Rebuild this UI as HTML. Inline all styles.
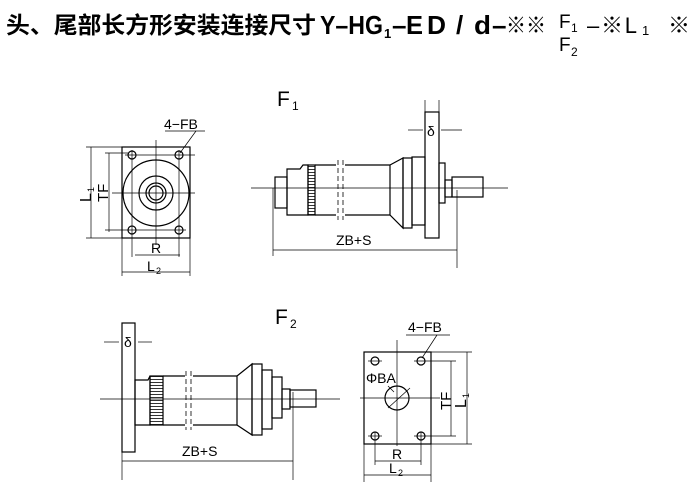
<!DOCTYPE html>
<html><head><meta charset="utf-8"><style>
html,body{margin:0;padding:0;background:#fff}
svg{display:block}
text{font-family:"Liberation Sans","Noto Sans CJK SC",sans-serif;fill:#000}
</style></head><body>
<svg width="700" height="502" viewBox="0 0 700 502" xmlns="http://www.w3.org/2000/svg">
<defs>
<pattern id="kn" width="3" height="3" patternUnits="userSpaceOnUse"><line x1="0" y1="1.5" x2="3" y2="1.5" stroke="#000" stroke-width="0.8"/></pattern>
</defs>
<g font-weight="bold">
<text x="6" y="33" font-size="23" textLength="310" lengthAdjust="spacingAndGlyphs">头、尾部长方形安装连接尺寸</text>
<text x="320" y="34" font-size="26" textLength="63" lengthAdjust="spacingAndGlyphs">Y–HG</text>
<text x="384" y="38" font-size="13">1</text>
<text x="392" y="34" font-size="26">–</text>
<text x="406" y="34" font-size="26" textLength="17" lengthAdjust="spacingAndGlyphs">E</text>
<text x="427" y="34" font-size="26" textLength="19" lengthAdjust="spacingAndGlyphs">D</text>
<text x="456" y="34" font-size="26">/</text>
<text x="474" y="34" font-size="26" textLength="17" lengthAdjust="spacingAndGlyphs">d</text>
<text x="492" y="34" font-size="26">–</text>
<text x="506" y="33" font-size="22" textLength="40" lengthAdjust="spacingAndGlyphs">※※</text>
<text x="559" y="28" font-size="19" font-weight="normal">F</text>
<text x="571" y="32" font-size="12" font-weight="normal">1</text>
<text x="559" y="51" font-size="19" font-weight="normal">F</text>
<text x="571" y="56" font-size="12" font-weight="normal">2</text>
<text x="587" y="33" font-size="22" font-weight="normal" textLength="50" lengthAdjust="spacing">–※L</text>
<text x="642" y="35" font-size="13" font-weight="normal">1</text>
<text x="668" y="33" font-size="22" font-weight="normal">※</text>
</g>
<g stroke="#000" fill="none" stroke-width="1.2">
<rect x="122" y="147" width="68" height="91"/>
<circle cx="156" cy="193" r="33"/>
<circle cx="156" cy="193" r="17"/>
<circle cx="156" cy="193" r="10"/>
<circle cx="156" cy="193" r="7"/>
<circle cx="132" cy="155" r="4"/><circle cx="179" cy="155" r="4"/>
<circle cx="132" cy="230" r="4"/><circle cx="179" cy="230" r="4"/>
<g stroke-width="0.7">
<line x1="156" y1="140" x2="156" y2="245"/><line x1="112" y1="193" x2="195" y2="193"/>
<line x1="125" y1="155" x2="195" y2="155"/><line x1="105" y1="230" x2="186" y2="230"/>
<line x1="132" y1="150" x2="132" y2="257"/><line x1="179" y1="150" x2="179" y2="257"/>
<line x1="86" y1="147" x2="122" y2="147"/><line x1="86" y1="238" x2="122" y2="238"/>
<line x1="91" y1="147" x2="91" y2="238"/><line x1="109" y1="153" x2="109" y2="232"/>
<line x1="105" y1="153" x2="128" y2="153"/>
<line x1="135" y1="255" x2="180" y2="255"/><line x1="122" y1="272" x2="190" y2="272"/>
<line x1="122" y1="238" x2="122" y2="276"/><line x1="190" y1="238" x2="190" y2="276"/>
<line x1="165" y1="131" x2="205" y2="131"/><line x1="196" y1="131" x2="180" y2="153"/>
</g>
<line x1="251" y1="188" x2="508" y2="188" stroke-width="0.7"/>
<rect x="275" y="177" width="12" height="31"/>
<path d="M287 215 V169 H300 L303 165 H308 V215 Z"/>
<rect x="308" y="165" width="7" height="50" fill="url(#kn)"/>
<line x1="315" y1="165" x2="336" y2="165"/><line x1="345" y1="165" x2="390" y2="165"/>
<line x1="315" y1="215" x2="336" y2="215"/><line x1="345" y1="215" x2="390" y2="215"/>
<line x1="338" y1="160" x2="338" y2="220" stroke-dasharray="5,3" stroke-width="0.8"/>
<line x1="343" y1="160" x2="343" y2="220" stroke-dasharray="5,3" stroke-width="0.8"/>
<path d="M390 165 L403 158 V228 L390 215 Z"/>
<rect x="403" y="158" width="9" height="70"/>
<rect x="412" y="157" width="13" height="68"/>
<rect x="425" y="112" width="14" height="126"/>
<rect x="439" y="163" width="6" height="40"/>
<rect x="445" y="180" width="7" height="17"/>
<rect x="452" y="177" width="31" height="20"/>
<g stroke-width="0.7">
<line x1="408" y1="130" x2="423" y2="130"/><line x1="441" y1="130" x2="462" y2="130"/>
<line x1="425" y1="100" x2="425" y2="112"/><line x1="439" y1="100" x2="439" y2="112"/>
<line x1="273" y1="188" x2="273" y2="256"/><line x1="457" y1="190" x2="457" y2="268"/>
<line x1="273" y1="250" x2="457" y2="250"/>
</g>
<line x1="100" y1="399" x2="340" y2="399" stroke-width="0.7"/>
<rect x="122" y="323" width="13" height="129"/>
<path d="M135 425 V380 H148 L150 376 H150 V425 Z"/>
<rect x="150" y="376" width="13" height="49" fill="url(#kn)"/>
<line x1="163" y1="376" x2="185" y2="376"/><line x1="193" y1="376" x2="237" y2="376"/>
<line x1="163" y1="425" x2="185" y2="425"/><line x1="193" y1="425" x2="237" y2="425"/>
<line x1="186" y1="371" x2="186" y2="430" stroke-dasharray="5,3" stroke-width="0.8"/>
<line x1="191" y1="371" x2="191" y2="430" stroke-dasharray="5,3" stroke-width="0.8"/>
<path d="M237 376 L252 364 V435 L237 425 Z"/>
<rect x="252" y="364" width="10" height="71"/>
<rect x="262" y="370" width="10" height="59"/>
<rect x="272" y="377" width="10" height="41"/>
<rect x="282" y="389" width="8" height="20"/>
<rect x="290" y="390" width="26" height="17"/>
<g stroke-width="0.7">
<line x1="104" y1="342" x2="119" y2="342"/><line x1="138" y1="342" x2="152" y2="342"/>
<line x1="122" y1="452" x2="122" y2="480"/><line x1="293" y1="392" x2="293" y2="480"/>
<line x1="122" y1="461" x2="293" y2="461"/>
</g>
<rect x="364" y="352" width="67" height="92"/>
<circle cx="397" cy="398" r="12"/>
<circle cx="375" cy="361" r="4"/><circle cx="421" cy="361" r="4"/>
<circle cx="375" cy="436" r="4"/><circle cx="421" cy="436" r="4"/>
<g stroke-width="0.7">
<line x1="397" y1="340" x2="397" y2="446"/><line x1="360" y1="398" x2="440" y2="398"/>
<line x1="368" y1="361" x2="382" y2="361"/><line x1="414" y1="361" x2="456" y2="361"/>
<line x1="368" y1="436" x2="382" y2="436"/><line x1="414" y1="436" x2="456" y2="436"/>
<line x1="431" y1="352" x2="472" y2="352"/><line x1="431" y1="444" x2="472" y2="444"/>
<line x1="467" y1="352" x2="467" y2="444"/><line x1="451" y1="361" x2="451" y2="436"/>
<line x1="375" y1="432" x2="375" y2="465"/><line x1="421" y1="432" x2="421" y2="465"/>
<line x1="375" y1="461" x2="421" y2="461"/><line x1="364" y1="475" x2="431" y2="475"/>
<line x1="364" y1="444" x2="364" y2="482"/><line x1="431" y1="444" x2="431" y2="482"/>
<line x1="406" y1="335" x2="450" y2="335"/><line x1="437" y1="335" x2="422" y2="358"/>
<line x1="388" y1="408" x2="410" y2="388"/><line x1="388" y1="386" x2="394" y2="392"/>
</g>
</g>
<g font-size="14">
<text x="277" y="106" font-size="21">F</text><text x="292" y="110" font-size="12">1</text>
<text x="275" y="324" font-size="21">F</text><text x="290" y="328" font-size="12">2</text>
<text x="164" y="129">4−FB</text>
<text x="408" y="332">4−FB</text>
<text x="151" y="253">R</text>
<text x="147" y="271">L</text><text x="156" y="274" font-size="9">2</text>
<text x="392" y="459">R</text>
<text x="389" y="473">L</text><text x="398" y="476" font-size="9">2</text>
<text x="336" y="245">ZB+S</text>
<text x="182" y="456">ZB+S</text>
<text x="427" y="136">δ</text>
<text x="124" y="347">δ</text>
<text x="366" y="383">ΦBA</text>
<text transform="translate(91,202) rotate(-90)" font-size="16">L</text>
<text transform="translate(94,192) rotate(-90)" font-size="9">1</text>
<text transform="translate(108,202) rotate(-90)" font-size="15">TF</text>
<text transform="translate(451,410) rotate(-90)" font-size="15">TF</text>
<text transform="translate(466,408) rotate(-90)" font-size="16">L</text>
<text transform="translate(469,398) rotate(-90)" font-size="9">1</text>
</g>
</svg>
</body></html>
